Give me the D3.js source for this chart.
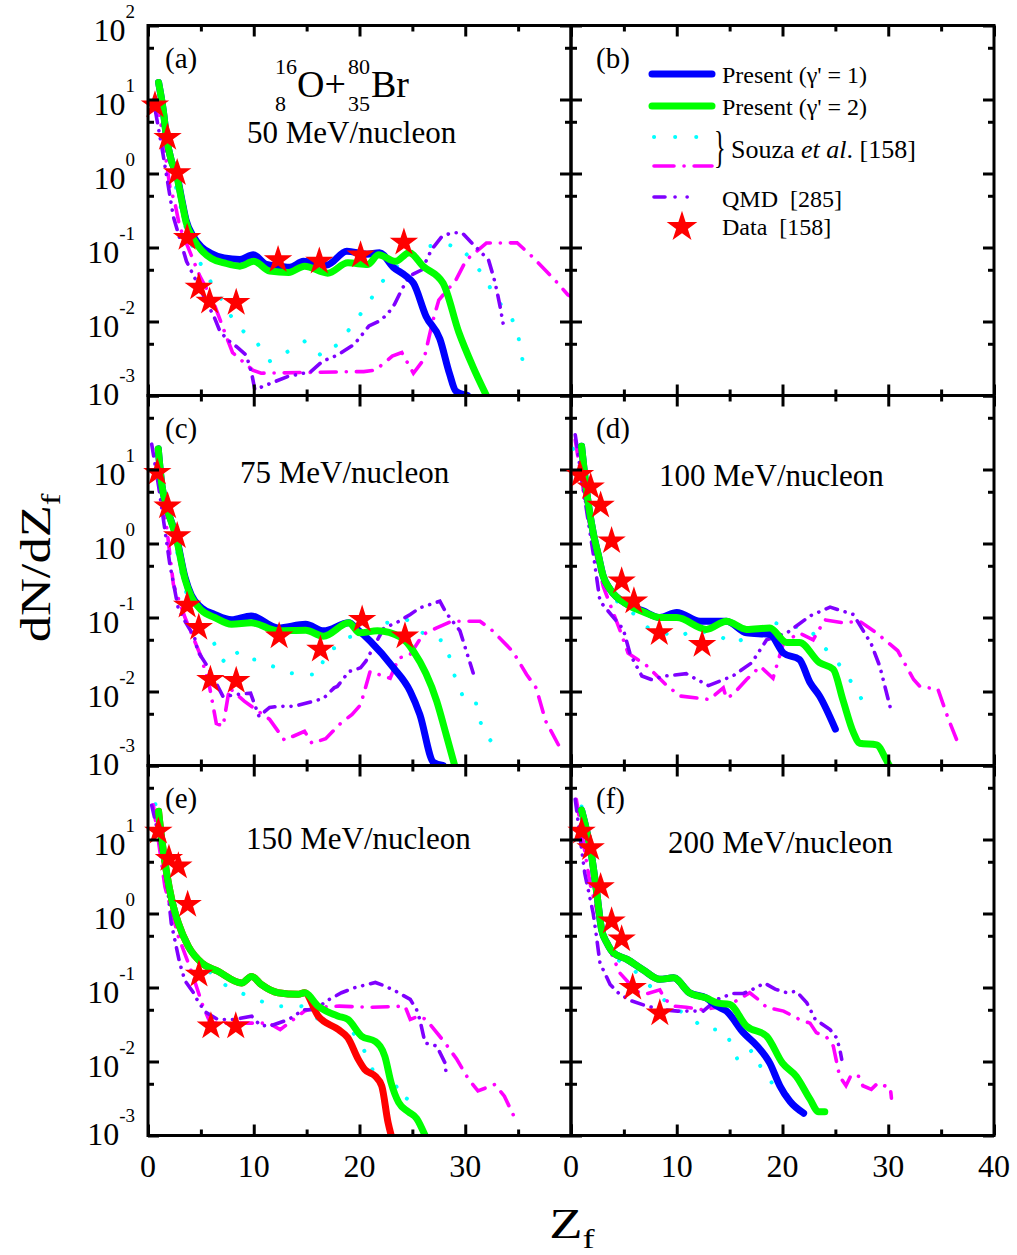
<!DOCTYPE html>
<html>
<head>
<meta charset="utf-8">
<script src="https://d3js.org/d3.v7.min.js"></script>
<style>
body { margin: 0; background: #fff; }
text { font-family: "Liberation Serif", "Times New Roman", serif; fill: #000; }
</style>
</head>
<body>
<div id="chart"></div>
<script>
// ---- data: [Z_f, dN/dZ_f] ----
// (a) 50 MeV/nucleon
var a_p1 = [[1.0,17],[1.45,7],[1.75,3.1],[2.2,1.5],[2.7,1.0],[3.2,0.44],[3.6,0.235],[4.3,0.14],[5.05,0.102],[6,0.083],[7.2,0.072],[8.7,0.069],[9.95,0.080],[11.2,0.059],[12.5,0.056],[13.4,0.054],[14.7,0.065],[16.9,0.058],[18.8,0.089],[20.7,0.081],[21.9,0.085],[23.2,0.054],[24.4,0.041],[25.1,0.033],[26.3,0.0117],[27.6,0.0058],[28.5,0.002],[29.1,0.00115],[30.2,0.001]];
var a_p2 = [[1.0,17],[1.45,7],[1.75,3.1],[2.2,1.5],[2.7,0.95],[3.2,0.42],[3.6,0.22],[4.3,0.13],[5.05,0.092],[6,0.071],[7.2,0.062],[8.7,0.056],[10,0.065],[11.5,0.048],[13.3,0.046],[14.8,0.056],[17,0.045],[18.9,0.062],[20.8,0.059],[21.8,0.080],[23.4,0.065],[24.7,0.085],[26,0.056],[27.9,0.033],[29.4,0.0071],[30.7,0.0025],[32,0.001]];
var a_sm = [[1,14],[1.5,6],[2,2.0],[2.5,0.8],[3,0.4],[3.5,0.2],[4,0.12],[4.9,0.063],[6,0.033],[7.25,0.0168],[8.35,0.0088],[10.2,0.0054],[11.55,0.0029],[13.06,0.0038],[14.8,0.0054],[16.45,0.0034],[18,0.005],[19.4,0.0092],[20.8,0.0174],[22.1,0.034],[23.8,0.061],[25.7,0.098],[27.65,0.111],[29.5,0.103],[30.8,0.0625],[31.9,0.0385],[32.6,0.0242],[33.5,0.016],[34.4,0.0111],[35,0.0065],[35.4,0.0031]];
var a_sc = [[0.8,10],[1.3,4],[2.07,0.66],[2.54,0.4],[3.0,0.19],[4.9,0.041],[6.1,0.0197],[7.4,0.0063],[8,0.0038],[9.9,0.0022],[10.7,0.002],[19.3,0.0021],[20.4,0.0021],[21.5,0.0022],[23.1,0.0034],[24.0,0.0038],[25.1,0.002],[26.1,0.0031],[26.9,0.0098],[27.5,0.0195],[29.1,0.036],[30.1,0.068],[32,0.115],[33.1,0.115],[34.9,0.116],[36.3,0.076],[38.5,0.036],[39.7,0.023],[40.5,0.02]];
var a_qmd = [[0.7,7],[1.4,1.9],[2.4,0.26],[3.64,0.065],[6.3,0.0111],[6.8,0.0074],[7.5,0.0057],[8.35,0.0046],[9.3,0.0035],[9.8,0.002],[10.1,0.0012],[11.8,0.0015],[13.2,0.0018],[15.4,0.0021],[16.5,0.0029],[17.9,0.0035],[19.5,0.0049],[20.9,0.0087],[21.8,0.01],[22.6,0.0123],[23.3,0.017],[24,0.027],[24.7,0.041],[25.9,0.05],[26.8,0.093],[27.8,0.141],[28.7,0.158],[29.7,0.158],[30.6,0.116],[32.2,0.068],[32.7,0.039],[33,0.0257],[33.3,0.0158],[33.6,0.0091]];
var a_data = [[0.66,8.4],[1.85,3.06],[2.76,1.02],[3.7,0.136],[4.8,0.029],[5.83,0.0187],[8.34,0.018],[12.3,0.068],[16.2,0.065],[20.1,0.079],[24.2,0.117]];

// (c) 75 MeV/nucleon
var c_p1 = [[0.97,19],[1.3,6.3],[1.75,3.2],[2.7,1.2],[3.5,0.35],[4.1,0.2],[5.05,0.135],[6.3,0.11],[7.9,0.093],[9.75,0.105],[12.3,0.072],[14.9,0.081],[16.6,0.066],[19,0.085],[19.8,0.069],[21,0.048],[23.2,0.021],[24.8,0.01],[25.7,0.0049],[27,0.0011],[27.9,0.001]];
var c_p2 = [[0.97,19],[1.3,6.3],[1.75,3.2],[2.7,1.15],[3.5,0.33],[4.1,0.19],[5.05,0.125],[6.3,0.1],[7.9,0.081],[9.75,0.085],[12.3,0.066],[14.9,0.067],[16.6,0.056],[19,0.085],[20,0.062],[21.7,0.066],[23.9,0.054],[25.1,0.035],[27.3,0.0074],[28.2,0.0026],[29,0.001]];
var c_sm = [[0.8,16],[1.5,6],[2,2.8],[3,0.5],[4,0.13],[5,0.075],[5.83,0.059],[7.1,0.0257],[8.2,0.037],[8.8,0.0279],[10.2,0.0269],[11.8,0.0219],[13.35,0.0178],[14.6,0.017],[16.2,0.017],[16.8,0.0347],[17.7,0.039],[18.8,0.0537],[20.4,0.059],[22.6,0.085],[24.5,0.093],[26.5,0.0537],[28.1,0.0479],[29,0.0162],[29.7,0.0091],[30.9,0.0085],[31.2,0.0051],[31.7,0.0029],[32.6,0.002],[33.6,0.0021]];
var c_sc = [[0.8,11],[1.5,3.5],[2.4,0.28],[3.5,0.1],[5,0.03],[5.8,0.012],[6.46,0.0037],[7.1,0.0034],[7.7,0.0112],[9.1,0.0074],[11.5,0.0042],[12.9,0.0022],[14.8,0.0029],[15.5,0.002],[16.8,0.0023],[18.2,0.0037],[19.3,0.0049],[20.1,0.0066],[21,0.0186],[22.9,0.0151],[23.7,0.0282],[24.8,0.0316],[26,0.0589],[27.3,0.0724],[28.7,0.089],[31.4,0.089],[32.6,0.066],[34.5,0.0347],[35.8,0.017],[36.7,0.0112],[37.6,0.004],[38.9,0.0018]];
var c_qmd = [[0.35,22],[1.0,6],[2.07,0.52],[2.85,0.135],[3.5,0.089],[4.4,0.054],[4.7,0.035],[5.7,0.021],[7.1,0.0085],[8.3,0.0091],[9.7,0.0095],[10.1,0.0066],[10.5,0.0046],[11.5,0.0061],[12.4,0.0063],[13.8,0.0063],[15.7,0.0074],[16.6,0.0081],[17.6,0.0112],[17.9,0.0117],[19,0.0186],[20.1,0.0209],[20.6,0.0257],[21.2,0.037],[21.8,0.053],[22.3,0.072],[23.5,0.085],[24.8,0.11],[25.7,0.135],[27.6,0.166],[28.2,0.115],[29.5,0.066],[30.4,0.0257],[30.75,0.0178]];
var c_data = [[0.88,9.1],[1.85,3.2],[2.76,1.27],[3.7,0.146],[4.8,0.073],[5.9,0.0145],[8.34,0.014],[12.4,0.056],[16.3,0.037],[20.25,0.094],[24.3,0.056]];

// (d) 100 MeV/nucleon
var d_p1 = [[1.0,20.6],[1.5,4.8],[2.1,1.39],[2.6,0.68],[3.05,0.36],[3.7,0.24],[5.3,0.151],[6.8,0.123],[8.4,0.1],[10,0.117],[12.2,0.089],[14.7,0.089],[16.6,0.062],[18.8,0.059],[20.1,0.033],[21.6,0.027],[22.6,0.0132],[23.5,0.0087],[25,0.0031]];
var d_p2 = [[1.0,20.6],[1.5,4.8],[2.1,1.39],[2.6,0.68],[3.05,0.36],[3.7,0.24],[5.3,0.151],[6.8,0.12],[8.4,0.1],[10,0.1],[12.8,0.069],[14.7,0.089],[16.6,0.069],[18.8,0.072],[20.4,0.046],[21.6,0.046],[23.5,0.0245],[24.8,0.02],[25.7,0.0078],[26.7,0.0028],[27.3,0.002],[28.9,0.0019],[29.8,0.0012],[30.1,0.001]];
var d_sm = [[0.2,19],[1,9],[2,1.5],[3,0.4],[3.7,0.195],[6.2,0.105],[7.3,0.072],[10.1,0.054],[11.7,0.069],[14.1,0.056],[15.3,0.044],[18.2,0.069],[19.1,0.085],[21,0.076],[22.7,0.069],[23.2,0.05],[24.5,0.033],[25.9,0.0186],[27.6,0.0074]];
var d_sc = [[0.4,25],[1.2,5],[2,1.2],[3.06,0.26],[4.6,0.069],[5.4,0.033],[7.15,0.0224],[9,0.0123],[10.3,0.0087],[13.1,0.0078],[14.4,0.0112],[14.7,0.0081],[15.3,0.0091],[16.6,0.0145],[17.9,0.0219],[19.1,0.0151],[20.1,0.0457],[21.6,0.0617],[22.9,0.05],[24,0.093],[25.7,0.085],[27.3,0.089],[28.9,0.0617],[30.9,0.0355],[32.4,0.0145],[33,0.0117],[34.7,0.0107],[35.7,0.0042],[36.6,0.002]];
var d_qmd = [[0.4,29.5],[1.2,5],[2.1,0.74],[2.74,0.166],[4.95,0.069],[5.6,0.0316],[6.7,0.0162],[7.6,0.0145],[8.9,0.0162],[10.9,0.0174],[13,0.012],[15.3,0.0162],[17.1,0.0245],[18.5,0.05],[20.4,0.0617],[22.6,0.105],[24.5,0.138],[26.7,0.11],[28.4,0.0437],[29.2,0.0219],[30.2,0.006]];
var d_data = [[0.85,8.5],[1.86,5.8],[2.8,3.27],[3.84,1.08],[4.79,0.31],[5.95,0.166],[8.35,0.062],[12.4,0.043]];

// (e) 150 MeV/nucleon
var e_p1 = [[1.0,24],[1.3,10],[1.76,3.55],[2.24,1.55],[2.87,0.74],[3.8,0.363],[5.1,0.214],[6.6,0.166],[8.85,0.115],[9.8,0.141],[10.7,0.11],[12.3,0.085],[14.2,0.081],[14.8,0.085],[16.1,0.041],[18,0.027],[18.9,0.0209],[19.9,0.0106],[20.5,0.0078],[21.5,0.0063],[22.1,0.0047],[22.7,0.0015],[23,0.001]];
var e_p2 = [[1.0,24],[1.3,10],[1.76,3.55],[2.24,1.55],[2.87,0.74],[3.8,0.363],[5.1,0.214],[6.6,0.166],[8.85,0.115],[9.8,0.141],[10.7,0.11],[12.3,0.085],[14.2,0.081],[14.8,0.085],[16.1,0.056],[18,0.041],[18.9,0.037],[20.2,0.022],[21.5,0.0186],[22.4,0.0117],[23,0.0051],[23.7,0.0028],[24.6,0.0021],[25.4,0.0017],[26.2,0.001]];
var e_sm = [[0.7,30],[1.0,22],[2,3],[2.87,0.68],[3.5,0.4],[4.44,0.263],[6.65,0.123],[8.07,0.093],[10.3,0.069],[11.85,0.056],[14.5,0.056],[15.9,0.039],[18.1,0.027],[19.4,0.0245],[20.4,0.0145],[21.3,0.0074],[22.7,0.0087],[23.3,0.0051],[24.3,0.0029],[25.2,0.0044]];
var e_sc = [[0.5,29.5],[1.6,2.3],[2.87,0.49],[4.1,0.166],[5.2,0.056],[5.9,0.033],[11.4,0.033],[12.5,0.027],[14.8,0.048],[15.9,0.054],[18.1,0.056],[21.1,0.054],[24.3,0.056],[24.8,0.037],[25.6,0.041],[26.3,0.037],[28.1,0.0178],[29.2,0.0107],[30.3,0.0058],[31.2,0.004],[32.8,0.0049],[33.7,0.0034],[34.7,0.0017]];
var e_qmd = [[0.35,29],[1.1,10],[1.9,1.9],[2.2,0.74],[3.0,0.214],[3.5,0.123],[4.3,0.085],[4.8,0.062],[5.5,0.046],[6.6,0.037],[8.2,0.037],[9.8,0.041],[10.6,0.031],[11.5,0.030],[13.3,0.037],[14.7,0.05],[15.8,0.05],[16.9,0.066],[18.3,0.085],[19.6,0.1],[21.5,0.117],[22.4,0.105],[23.7,0.085],[24.8,0.069],[25.4,0.05],[25.7,0.037],[26.2,0.0178],[27.3,0.0162],[28.1,0.0095],[28.2,0.0066]];
var e_data = [[0.98,12.9],[1.98,5.5],[2.87,4.36],[3.75,1.32],[4.82,0.15],[5.95,0.03],[8.3,0.03]];

// (f) 200 MeV/nucleon
var f_p1 = [[1.0,25],[1.95,5.96],[2.4,2.09],[2.9,0.6],[3.4,0.4],[4.0,0.295],[5.3,0.24],[6.8,0.174],[8.4,0.129],[9.7,0.135],[11.2,0.085],[12.8,0.072],[13.8,0.056],[14.7,0.048],[16.3,0.0245],[17.6,0.0162],[18.8,0.0095],[19.75,0.0047],[20.7,0.0029],[22,0.002]];
var f_p2 = [[1.0,25],[1.95,5.96],[2.4,2.09],[2.9,0.6],[3.4,0.4],[4.0,0.295],[5.3,0.24],[6.8,0.174],[8.4,0.129],[9.7,0.135],[11.2,0.085],[12.8,0.072],[13.8,0.062],[15,0.059],[16.6,0.030],[18.5,0.022],[20,0.0095],[21.3,0.0063],[22.6,0.0031],[23.4,0.0021],[24,0.0021]];
var f_sm = [[1.0,28],[2,5],[2.9,0.65],[4.16,0.251],[6.05,0.166],[8.9,0.066],[10.1,0.05],[11.4,0.039],[12.5,0.028],[13,0.027],[14.4,0.027],[15.3,0.0162],[15.8,0.01],[17.2,0.0145],[17.9,0.0087],[19.1,0.0049],[20.5,0.0035],[21,0.0023],[21.6,0.0023]];
var f_sc = [[0.5,35],[1.8,2.57],[2.9,0.6],[4.6,0.158],[6.2,0.089],[7,0.081],[8.4,0.093],[8.9,0.069],[9.7,0.056],[10.9,0.054],[12.5,0.05],[14.4,0.056],[15.3,0.062],[16.9,0.085],[17.7,0.069],[18.5,0.054],[20.1,0.048],[21.6,0.037],[22.6,0.033],[23.2,0.0245],[24.2,0.021],[24.8,0.0162],[25.4,0.0063],[26,0.0047],[26.5,0.0066],[27.2,0.0063],[27.6,0.0047],[28.4,0.0042],[29,0.0051],[30.2,0.0044],[30.3,0.0032]];
var f_qmd = [[0.4,35],[1.3,3.5],[2.1,1.0],[2.4,0.5],[2.74,0.214],[3.7,0.11],[4.6,0.081],[5.7,0.066],[7.2,0.056],[8.7,0.05],[10.1,0.048],[11.2,0.048],[12.5,0.048],[13.8,0.069],[15.3,0.083],[16.3,0.083],[17.1,0.093],[18.3,0.115],[19.3,0.095],[20.4,0.085],[21.3,0.089],[22.3,0.062],[23.1,0.037],[24.5,0.027],[25.1,0.021],[25.4,0.0151],[25.6,0.0107]];
var f_data = [[1.0,12.9],[1.86,7.7],[2.8,2.29],[3.84,0.79],[4.79,0.45],[5.83,0.1],[8.4,0.045]];

// ticks
var xMajor = [0, 10, 20, 30, 40];
var xMinor = [5, 15, 25, 35];
var yMajor = [1e-3, 1e-2, 1e-1, 1, 10, 100];
var yMinor = [5e-3, 5e-2, 5e-1, 5, 50];

// ---- layout ----
var w = 1017, h = 1255;
var colX = [148, 571];
var top0 = 25.5;
var pw = 423, ph = 370;

var xScale = d3.scaleLinear().domain([0, 40]).range([0, pw]);
var yScale = d3.scaleLog().domain([1e-3, 1e2]).range([ph, 0]);

var svg = d3.select("#chart").append("svg")
    .attr("width", w).attr("height", h);

var panels = [
  {id: "a", col: 0, row: 0, p1: a_p1, p2: a_p2, sm: a_sm, sc: a_sc, qmd: a_qmd, data: a_data, p1c: "#0000ff"},
  {id: "b", col: 1, row: 0},
  {id: "c", col: 0, row: 1, p1: c_p1, p2: c_p2, sm: c_sm, sc: c_sc, qmd: c_qmd, data: c_data, p1c: "#0000ff",
   energy: "75 MeV/nucleon", ex: 240, ey: 483},
  {id: "d", col: 1, row: 1, p1: d_p1, p2: d_p2, sm: d_sm, sc: d_sc, qmd: d_qmd, data: d_data, p1c: "#0000ff",
   energy: "100 MeV/nucleon", ex: 659, ey: 486},
  {id: "e", col: 0, row: 2, p1: e_p1, p2: e_p2, sm: e_sm, sc: e_sc, qmd: e_qmd, data: e_data, p1c: "#ff0000",
   energy: "150 MeV/nucleon", ex: 246, ey: 849},
  {id: "f", col: 1, row: 2, p1: f_p1, p2: f_p2, sm: f_sm, sc: f_sc, qmd: f_qmd, data: f_data, p1c: "#0000ff",
   energy: "200 MeV/nucleon", ex: 668, ey: 853}
];

var line = d3.line()
    .x(function(d) { return xScale(d[0]); })
    .y(function(d) { return yScale(d[1]); });
var smooth = d3.line()
    .curve(d3.curveMonotoneX)
    .x(function(d) { return xScale(d[0]); })
    .y(function(d) { return yScale(d[1]); });

var styles = {
  sm:  {color: "#00ffff", dash: "0.1 20", width: 4},
  sc:  {color: "#ff00ff", dash: "16 10 0.1 10", width: 3.6},
  qmd: {color: "#8000ff", dash: "12 8 0.1 8 0.1 8", width: 3.6}
};

var star = d3.symbol().type(d3.symbolStar);

panels.forEach(function(p) {
  var g = svg.append("g")
      .attr("transform", "translate(" + colX[p.col] + "," + (top0 + p.row * ph) + ")");

  g.append("clipPath").attr("id", "clip_" + p.id)
    .append("rect").attr("width", pw).attr("height", ph);

  var plot = g.append("g").attr("clip-path", "url(#clip_" + p.id + ")");

  if (p.p1) {
    ["sm", "sc", "qmd"].forEach(function(k) {
      plot.append("path")
        .datum(p[k])
        .attr("d", line)
        .attr("fill", "none")
        .attr("stroke", styles[k].color)
        .attr("stroke-width", styles[k].width)
        .attr("stroke-dasharray", styles[k].dash)
        .attr("stroke-linecap", "round");
    });
    plot.append("path").datum(p.p1).attr("d", smooth)
      .attr("fill", "none").attr("stroke", p.p1c)
      .attr("stroke-width", 7).attr("stroke-linecap", "round").attr("stroke-linejoin", "round");
    plot.append("path").datum(p.p2).attr("d", smooth)
      .attr("fill", "none").attr("stroke", "#00ff00")
      .attr("stroke-width", 7).attr("stroke-linecap", "round").attr("stroke-linejoin", "round");

    g.selectAll("path.star")
      .data(p.data)
      .enter()
      .append("path")
      .attr("class", "star")
      .attr("d", star.size(250))
      .attr("transform", function(d) { return "translate(" + xScale(d[0]) + "," + yScale(d[1]) + ")"; })
      .attr("fill", "#ff0000");
  }

  // ticks on all four sides, pointing inward
  var axes = [
    d3.axisBottom(xScale).tickValues(xMajor).tickSize(-11),
    d3.axisBottom(xScale).tickValues(xMinor).tickSize(-6),
    d3.axisTop(xScale).tickValues(xMajor).tickSize(-11),
    d3.axisTop(xScale).tickValues(xMinor).tickSize(-6),
    d3.axisLeft(yScale).tickValues(yMajor).tickSize(-11),
    d3.axisLeft(yScale).tickValues(yMinor).tickSize(-6),
    d3.axisRight(yScale).tickValues(yMajor).tickSize(-11),
    d3.axisRight(yScale).tickValues(yMinor).tickSize(-6)
  ];
  var shifts = ["0," + ph, "0," + ph, "0,0", "0,0", "0,0", "0,0", pw + ",0", pw + ",0"];
  axes.forEach(function(ax, i) {
    var ag = g.append("g")
      .attr("transform", "translate(" + shifts[i] + ")")
      .call(ax.tickFormat("").tickSizeOuter(0));
    ag.select(".domain").remove();
    ag.selectAll("line").attr("stroke", "#000").attr("stroke-width", 3);
  });

  g.append("rect")
    .attr("width", pw).attr("height", ph)
    .attr("fill", "none").attr("stroke", "#000").attr("stroke-width", 3);

  // panel letter
  g.append("text")
    .attr("x", p.col == 0 ? 17 : 25).attr("y", 42)
    .style("font-size", "29px")
    .text("(" + p.id + ")");

  // y tick labels on the left column
  if (p.col == 0) {
    var exps = p.row == 0 ? [2, 1, 0, -1, -2, -3] : [1, 0, -1, -2, -3];
    exps.forEach(function(e) {
      var t = g.append("text")
        .attr("x", -13)
        .attr("y", yScale(Math.pow(10, e)) + (e == -3 ? 9 : 15))
        .attr("text-anchor", "end")
        .style("font-size", "32px");
      t.append("tspan").text("10");
      t.append("tspan").attr("dy", -23).style("font-size", "19px").text(e);
    });
  }

  // x tick labels on the bottom row
  if (p.row == 2) {
    var xl = p.col == 0 ? [0, 10, 20, 30] : [0, 10, 20, 30, 40];
    g.selectAll("text.xl")
      .data(xl)
      .enter()
      .append("text")
      .attr("class", "xl")
      .attr("x", function(d) { return xScale(d); })
      .attr("y", ph + 41)
      .attr("text-anchor", "middle")
      .style("font-size", "32px")
      .text(function(d) { return d; });
  }
});

// energy labels
panels.forEach(function(p) {
  if (p.energy) {
    svg.append("text")
      .attr("x", p.ex).attr("y", p.ey)
      .style("font-size", "31px")
      .text(p.energy);
  }
});

// reaction label in (a)
svg.append("text").attr("x", 275).attr("y", 74).style("font-size", "22px").text("16");
svg.append("text").attr("x", 275).attr("y", 111).style("font-size", "22px").text("8");
svg.append("text").attr("x", 297).attr("y", 97).style("font-size", "38px").text("O+");
svg.append("text").attr("x", 348).attr("y", 74).style("font-size", "22px").text("80");
svg.append("text").attr("x", 348).attr("y", 111).style("font-size", "22px").text("35");
svg.append("text").attr("x", 371).attr("y", 97).style("font-size", "38px").text("Br");
svg.append("text").attr("x", 247).attr("y", 143).style("font-size", "31px").text("50 MeV/nucleon");

// legend in (b)
var lg = svg.append("g");
lg.append("line").attr("x1", 652).attr("x2", 712).attr("y1", 74).attr("y2", 74)
  .attr("stroke", "#0000ff").attr("stroke-width", 7).attr("stroke-linecap", "round");
lg.append("line").attr("x1", 652).attr("x2", 712).attr("y1", 106).attr("y2", 106)
  .attr("stroke", "#00ff00").attr("stroke-width", 7).attr("stroke-linecap", "round");
lg.append("line").attr("x1", 654).attr("x2", 712).attr("y1", 137).attr("y2", 137)
  .attr("stroke", styles.sm.color).attr("stroke-width", 4).attr("stroke-dasharray", "0.1 21")
  .attr("stroke-linecap", "round");
lg.append("line").attr("x1", 654).attr("x2", 712).attr("y1", 166).attr("y2", 166)
  .attr("stroke", styles.sc.color).attr("stroke-width", 3.6).attr("stroke-dasharray", "20 10 0.1 10")
  .attr("stroke-linecap", "round");
lg.append("line").attr("x1", 654).attr("x2", 690).attr("y1", 197).attr("y2", 197)
  .attr("stroke", styles.qmd.color).attr("stroke-width", 3.6).attr("stroke-dasharray", "11 10 0.1 12 0.1 20")
  .attr("stroke-linecap", "round");
lg.append("path").attr("d", star.size(292)).attr("transform", "translate(682,227)").attr("fill", "#ff0000");

lg.append("text").attr("x", 722).attr("y", 83).style("font-size", "24px").text("Present (\u03b3' = 1)");
lg.append("text").attr("x", 722).attr("y", 115).style("font-size", "24px").text("Present (\u03b3' = 2)");
lg.append("text").attr("transform", "translate(714,162) scale(0.55,1)").style("font-size", "44px").text("}");
var sz = lg.append("text").attr("x", 731).attr("y", 158).style("font-size", "26px");
sz.append("tspan").text("Souza ");
sz.append("tspan").style("font-style", "italic").text("et al");
sz.append("tspan").text(". [158]");
lg.append("text").attr("x", 722).attr("y", 207).style("font-size", "24px").attr("xml:space", "preserve").text("QMD  [285]");
lg.append("text").attr("x", 722).attr("y", 235).style("font-size", "24px").attr("xml:space", "preserve").text("Data  [158]");

// axis titles
var yt = svg.append("text")
  .attr("transform", "translate(50,568) rotate(-90) scale(1.25,1)")
  .attr("text-anchor", "middle")
  .style("font-size", "42px");
yt.append("tspan").text("dN/dZ");
yt.append("tspan").attr("dy", 10).style("font-size", "28px").text("f");

var xt = svg.append("text")
  .attr("transform", "translate(572,1238) scale(1.3,1)")
  .attr("text-anchor", "middle")
  .style("font-size", "42px");
xt.append("tspan").text("Z");
xt.append("tspan").attr("dy", 10).style("font-size", "28px").text("f");
</script>
</body>
</html>
